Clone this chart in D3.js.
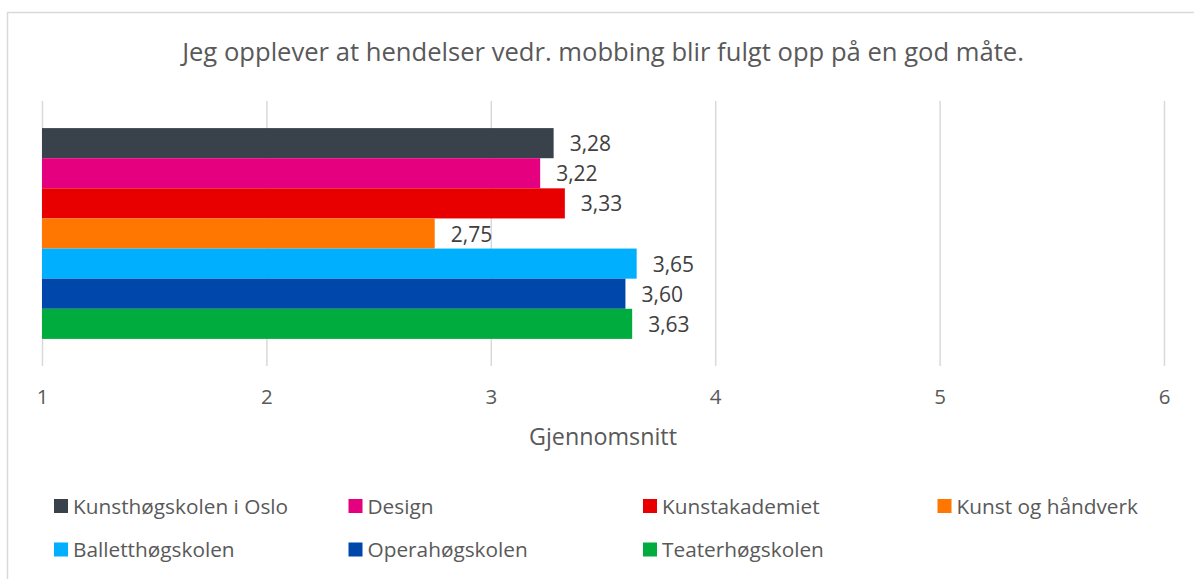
<!DOCTYPE html>
<html>
<head>
<meta charset="utf-8">
<script src="https://cdn.jsdelivr.net/npm/d3@7"></script>
<style>
  html, body { margin: 0; padding: 0; background: #fff; }
  svg { display: block; }
  text { font-family: "Open Sans", sans-serif; }
</style>
</head>
<body>
<svg id="chart" width="1194" height="579"></svg>
<script>
const title = "Jeg opplever at hendelser vedr. mobbing blir fulgt opp på en god måte.";
const axisTitle = "Gjennomsnitt";
const categories = ["Kunsthøgskolen i Oslo", "Design", "Kunstakademiet", "Kunst og håndverk", "Balletthøgskolen", "Operahøgskolen", "Teaterhøgskolen"];
const values = [3.28, 3.22, 3.33, 2.75, 3.65, 3.60, 3.63];
const colors = ["#39424b", "#e4007f", "#e80000", "#ff7700", "#00b0ff", "#0047ab", "#00ac3e"];
const tickValues = [1, 2, 3, 4, 5, 6];

const svg = d3.select("#chart");
const W = 1194, H = 579;

// outer chart border
svg.append("rect")
  .attr("x", 7.5).attr("y", 12.5)
  .attr("width", W + 10).attr("height", H + 10)
  .attr("fill", "#fff").attr("stroke", "#d9d9d9").attr("stroke-width", 1.5);

const plot = { left: 42, right: 1164, top: 101, bottom: 366 };

const x = d3.scaleLinear().domain([1, 6]).range([plot.left, plot.right]);
const y = d3.scaleBand().domain(categories).range([plot.top, plot.bottom])
  .paddingInner(0).paddingOuter(0.9);
const color = d3.scaleOrdinal().domain(categories).range(colors);

// title
svg.append("text")
  .attr("x", 603).attr("y", 61)
  .attr("text-anchor", "middle")
  .attr("font-size", 25.6)
  .attr("fill", "#595959")
  .text(title);

// gridlines + tick labels via axis
const axis = d3.axisBottom(x).tickValues(tickValues)
  .tickSize(-(plot.bottom - plot.top)).tickFormat(d3.format("d"));
const gAxis = svg.append("g")
  .attr("transform", `translate(0,${plot.bottom})`)
  .call(axis);
gAxis.select(".domain").remove();
gAxis.selectAll(".tick line").attr("stroke", "#d9d9d9").attr("stroke-width", 1.5);
gAxis.selectAll(".tick text")
  .attr("y", 38).attr("dy", 0)
  .attr("font-size", 20.5)
  .attr("font-family", "Open Sans, sans-serif")
  .attr("fill", "#595959");

// bars
const data = categories.map((c, i) => ({ c, v: values[i] }));
svg.append("g").selectAll("rect")
  .data(data).join("rect")
  .attr("x", x(1))
  .attr("y", d => y(d.c))
  .attr("width", d => x(d.v) - x(1))
  .attr("height", y.bandwidth())
  .attr("fill", d => color(d.c));

// value labels
const fmt = v => d3.format(".2f")(v).replace(".", ",");
svg.append("g").selectAll("text")
  .data(data).join("text")
  .attr("x", d => x(d.v) + 16)
  .attr("y", d => y(d.c) + y.bandwidth() / 2 + 8)
  .attr("font-size", 21)
  .attr("fill", "#404040")
  .text(d => fmt(d.v));

// axis title
svg.append("text")
  .attr("x", (plot.left + plot.right) / 2).attr("y", 445)
  .attr("text-anchor", "middle")
  .attr("font-size", 23.3)
  .attr("fill", "#595959")
  .text(axisTitle);

// legend
const lg = svg.append("g").selectAll("g")
  .data(categories).join("g")
  .attr("transform", (d, i) => `translate(${54 + (i % 4) * 294.5},${i < 4 ? 499 : 542.5})`);
lg.append("rect").attr("width", 14).attr("height", 14).attr("fill", d => color(d));
lg.append("text").attr("x", 19).attr("y", 14.5)
  .attr("font-size", 20.8).attr("fill", "#595959")
  .text(d => d);
</script>
</body>
</html>
